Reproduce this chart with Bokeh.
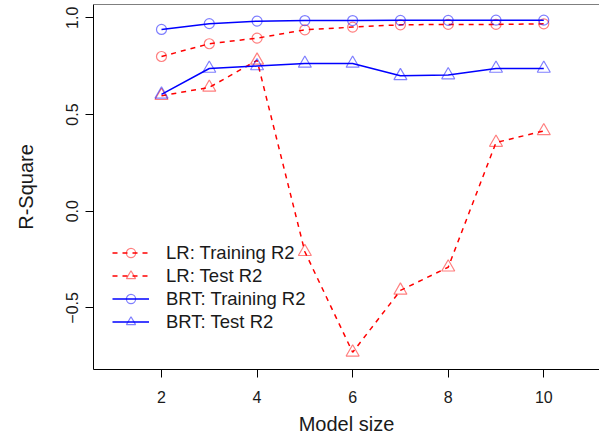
from bokeh.plotting import figure
from bokeh.models import Range1d, Legend, LegendItem, Span, FixedTicker
from bokeh.embed import file_html
from bokeh.resources import INLINE

model_size = [2, 3, 4, 5, 6, 7, 8, 9, 10]
lr_train = [0.80, 0.866, 0.895, 0.938, 0.952, 0.964, 0.966, 0.966, 0.969]
lr_test = [0.597, 0.64, 0.78, -0.21, -0.73, -0.41, -0.29, 0.355, 0.415]
brt_train = [0.94, 0.97, 0.983, 0.986, 0.986, 0.987, 0.987, 0.988, 0.988]
brt_test = [0.604, 0.738, 0.751, 0.764, 0.764, 0.70, 0.704, 0.738, 0.738]

x_ticks = [2, 4, 6, 8, 10]
y_ticks = [-0.5, 0.0, 0.5, 1.0]
y_tick_labels = {-0.5: "\u22120.5", 0.0: "0.0", 0.5: "0.5", 1.0: "1.0"}

FONT = "Liberation Sans"
RED = "#ff0000"
BLUE = "#0000ff"

Y_TOP = 1.069
p = figure(width=599, height=438, output_backend="svg", toolbar_location=None,
           x_range=Range1d(0.577, 11.166), y_range=Range1d(-0.819, Y_TOP),
           min_border_left=93, min_border_right=0, min_border_top=4, min_border_bottom=69)
p.grid.visible = False
p.outline_line_color = None
p.background_fill_color = "white"

p.xaxis.ticker = FixedTicker(ticks=x_ticks)
p.yaxis.ticker = FixedTicker(ticks=y_ticks)
p.yaxis.major_label_overrides = y_tick_labels
for ax in (p.xaxis[0], p.yaxis[0]):
    ax.major_tick_out = 8
    ax.major_tick_in = 0
    ax.minor_tick_line_color = None
    ax.axis_line_color = "black"
    ax.major_tick_line_color = "black"
    ax.major_label_text_font = FONT
    ax.major_label_text_font_size = "16px"
    ax.major_label_text_color = "#1a1a1a"
    ax.axis_label_text_font = FONT
    ax.axis_label_text_font_size = "20px"
    ax.axis_label_text_font_style = "normal"
    ax.axis_label_text_color = "#1a1a1a"
p.xaxis.axis_label = "Model size"
p.yaxis.axis_label = "R-Square"
p.yaxis.major_label_orientation = "vertical"
p.xaxis.major_label_standoff = 13
p.xaxis.axis_label_standoff = 7
p.yaxis.major_label_standoff = 7
p.yaxis.axis_label_standoff = 27

p.add_layout(Span(location=Y_TOP, dimension="width", line_color="black", line_width=1))

mk_alpha = 0.5
r1 = p.line(model_size, lr_train, line_color=RED, line_width=1.5, line_dash="5 5")
m1 = p.scatter(model_size, lr_train, marker="circle", size=10, fill_color=None,
               line_color=RED, line_alpha=mk_alpha, line_width=1.2)
r2 = p.line(model_size, lr_test, line_color=RED, line_width=1.5, line_dash="5 5")
m2 = p.scatter(model_size, lr_test, marker="triangle", size=13, fill_color=None,
               line_color=RED, line_alpha=mk_alpha, line_width=1.2)
r3 = p.line(model_size, brt_train, line_color=BLUE, line_width=1.5)
m3 = p.scatter(model_size, brt_train, marker="circle", size=10, fill_color=None,
               line_color=BLUE, line_alpha=mk_alpha, line_width=1.2)
r4 = p.line(model_size, brt_test, line_color=BLUE, line_width=1.5)
m4 = p.scatter(model_size, brt_test, marker="triangle", size=13, fill_color=None,
               line_color=BLUE, line_alpha=mk_alpha, line_width=1.2)

legend = Legend(items=[
    LegendItem(label="LR: Training R2", renderers=[r1, m1]),
    LegendItem(label="LR: Test R2", renderers=[r2, m2]),
    LegendItem(label="BRT: Training R2", renderers=[r3, m3]),
    LegendItem(label="BRT: Test R2", renderers=[r4, m4]),
], location=(19, 36), border_line_color=None, background_fill_alpha=0,
    padding=0, margin=0, spacing=0, glyph_width=37, glyph_height=23, label_height=23,
    label_standoff=17, label_text_font=FONT, label_text_font_size="18.5px",
    label_text_color="#1a1a1a")
p.add_layout(legend)

open("out.html", "w").write(file_html(p, INLINE))
